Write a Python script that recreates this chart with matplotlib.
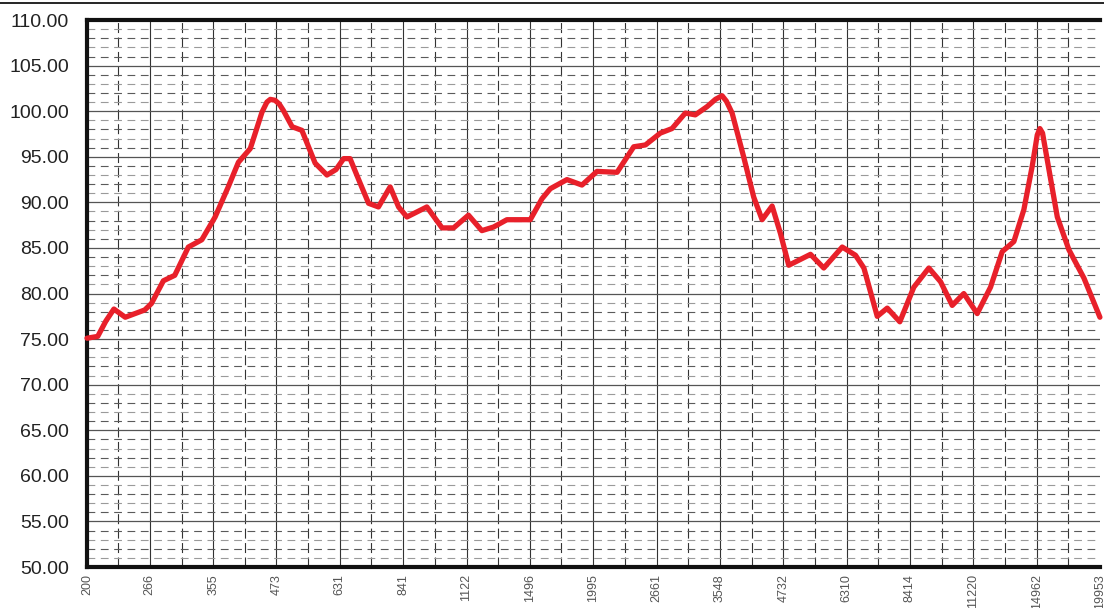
import numpy as np
import matplotlib
matplotlib.use('Agg')
import matplotlib.pyplot as plt
from matplotlib.lines import Line2D
from matplotlib.ticker import FixedLocator, NullFormatter

plt.rcParams['font.family'] = ['Liberation Sans', 'DejaVu Sans']

# frequency axis labels (1/8 decade steps)
tick_freqs = [200, 266, 355, 473, 631, 841, 1122, 1496, 1995, 2661,
              3548, 4732, 6310, 8414, 11220, 14962, 19953]

# curve
freq = [200, 210, 218, 226, 238, 260, 268, 283, 298, 317, 337,
        358, 380, 398, 420, 436, 443, 453, 460, 470, 479, 488, 508, 531,
        564, 595, 620, 642, 661, 692, 719, 752, 793, 824, 856,
        937, 1004, 1058, 1132, 1203, 1269, 1348, 1499, 1581, 1642,
        1771, 1896, 2030, 2224, 2399, 2530, 2707, 2855, 3033, 3173,
        3347, 3477, 3584, 3655, 3751, 3953, 4137, 4299, 4499, 4672, 4852, 5356,
        5689, 6187, 6572, 6827, 7254, 7591, 8038, 8566, 9170, 9671,
        10198, 10750, 11425, 12138, 12800, 13495, 14123, 14672, 15010, 15188,
        15374, 15588, 16440, 17330, 18554, 19953]
level = [75.1, 75.3, 77.0, 78.3, 77.4, 78.2, 78.9, 81.4, 82.0, 85.1, 85.9,
         88.4, 91.7, 94.4, 95.9, 98.7, 99.9, 101.0, 101.3, 101.2, 100.8, 100.1, 98.3, 97.9,
         94.3, 93.0, 93.6, 94.8, 94.8, 92.1, 89.9, 89.5, 91.7, 89.5, 88.4,
         89.5, 87.2, 87.2, 88.6, 86.9, 87.3, 88.1, 88.1, 90.4, 91.5,
         92.5, 91.9, 93.4, 93.3, 96.1, 96.3, 97.6, 98.1, 99.8, 99.6,
         100.5, 101.3, 101.7, 101.1, 99.8, 95.0, 90.6, 88.1, 89.6, 86.6, 83.1, 84.3,
         82.8, 85.1, 84.2, 82.8, 77.5, 78.4, 76.9, 80.7, 82.8, 81.3,
         78.7, 80.0, 77.8, 80.7, 84.6, 85.7, 89.2, 94.0, 97.4, 98.1,
         97.6, 95.7, 88.4, 84.8, 81.7, 77.4]

fig = plt.figure(figsize=(11.04, 6.08), dpi=100)
ax = fig.add_axes([0.0788, 0.0674, 0.9175, 0.8996])

ax.set_xscale('log')
ax.set_xlim(tick_freqs[0], tick_freqs[-1])
ax.set_ylim(50, 110)

# grid: solid majors, dashed minors
for f in tick_freqs[1:-1]:
    ax.axvline(f, color='#333333', lw=0.8, zorder=1)
mids = [np.sqrt(a * b) for a, b in zip(tick_freqs[:-1], tick_freqs[1:])]
for f in mids:
    ax.axvline(f, color='#333333', lw=0.8, ls=(0, (9, 4)), zorder=1)
for y in range(55, 110, 5):
    ax.axhline(y, color='#555555', lw=0.9, zorder=1)
for y in range(51, 110):
    if y % 5:
        c = '#5a5a5a' if y % 2 == 0 else '#9a9a9a'
        ax.axhline(y, color=c, lw=0.8, ls=(0, (7, 5)), zorder=1)

ax.plot(freq, level, color='#e8202a', lw=3.8, solid_joinstyle='round',
        solid_capstyle='round', zorder=3, clip_on=False)

ax.xaxis.set_major_locator(FixedLocator(tick_freqs))
ax.xaxis.set_minor_locator(FixedLocator([]))
ax.xaxis.set_minor_formatter(NullFormatter())
ax.set_xticklabels([str(f) for f in tick_freqs], rotation=90, fontsize=9,
                   color='#555555')
ax.set_yticks(range(50, 111, 5))
ax.set_yticklabels([f'{v:.2f}' for v in range(50, 111, 5)], fontsize=14,
                   color='#222222')
ax.tick_params(axis='y', length=0, pad=13)
ax.tick_params(axis='x', length=0, pad=5)

for side in ['left', 'bottom', 'top']:
    ax.spines[side].set_linewidth(3)
    ax.spines[side].set_color('#111111')
ax.spines['right'].set_visible(False)

fig.add_artist(Line2D([0, 1], [0.995, 0.995], color='black', lw=1.2,
                      transform=fig.transFigure))

fig.savefig('out.png', dpi=100)
